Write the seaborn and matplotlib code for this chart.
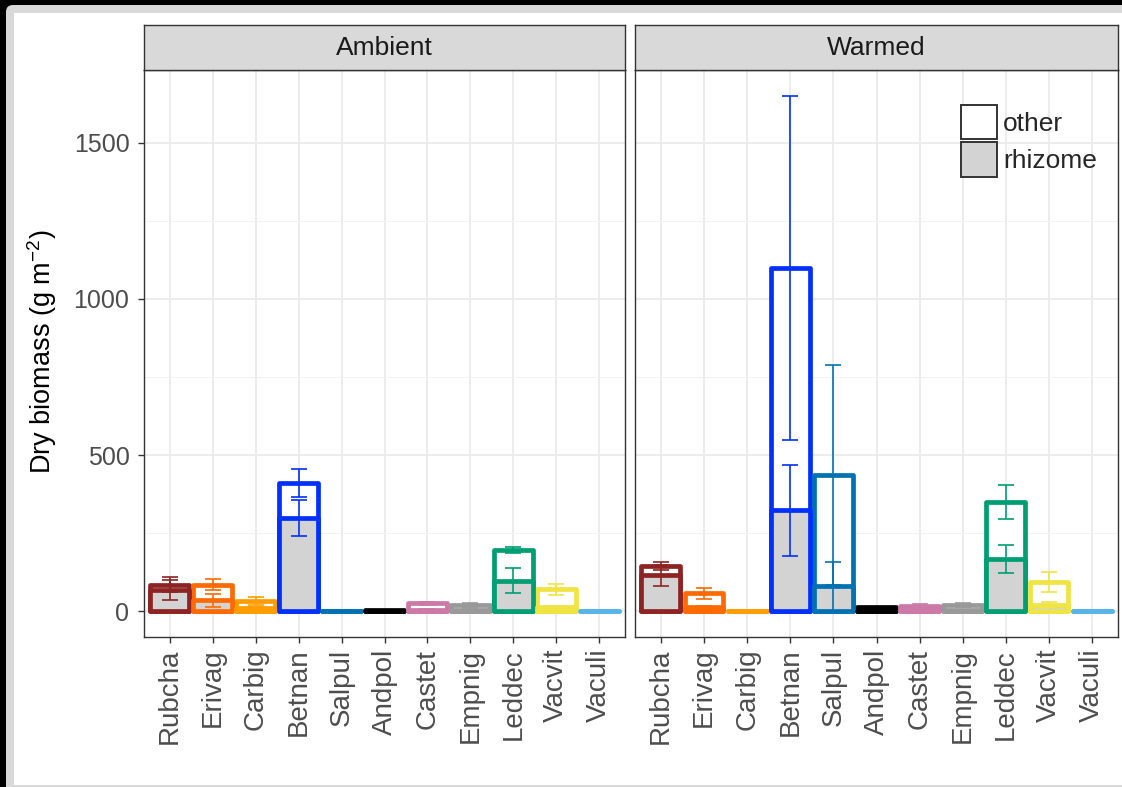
import numpy as np
import pandas as pd
import matplotlib
matplotlib.use("Agg")
import matplotlib.pyplot as plt
import seaborn as sns
from matplotlib.patches import Rectangle, FancyBboxPatch, Patch
from matplotlib.ticker import MultipleLocator

# ---- data -------------------------------------------------------------
species = ["Rubcha", "Erivag", "Carbig", "Betnan", "Salpul", "Andpol",
           "Castet", "Empnig", "Leddec", "Vacvit", "Vaculi"]
species_colors = ["#8E2323", "#FF6A00", "#FF9D00", "#0030FF", "#0072B2", "#000000",
                  "#CC79A7", "#999999", "#009E73", "#F0E442", "#56B4E9"]
treatments = ["Ambient", "Warmed"]
parts = ["other", "rhizome"]

ambient_rhizome    = [68, 35, 10, 298, 0, 0, 5, 5, 98, 12, 0]
ambient_rhizome_se = [33, 20, 5, 57, 0, 0, 2, 2, 40, 5, 0]
ambient_other      = [17, 50, 22, 112, 0, 4, 20, 15, 99, 58, 0]
ambient_other_se   = [23, 18, 12, 45, 0, 0, 5, 7, 10, 17, 0]

warmed_rhizome    = [115, 12, 0, 323, 80, 0, 3, 3, 166, 20, 0]
warmed_rhizome_se = [33, 5, 0, 146, 79, 0, 2, 2, 45, 8, 0]
warmed_other      = [30, 45, 2, 775, 355, 12, 15, 17, 184, 72, 0]
warmed_other_se   = [13, 17, 0, 550, 352, 0, 6, 5, 54, 32, 0]

rows = []
for trt, rh, rh_se, ot, ot_se in [
        ("Ambient", ambient_rhizome, ambient_rhizome_se, ambient_other, ambient_other_se),
        ("Warmed", warmed_rhizome, warmed_rhizome_se, warmed_other, warmed_other_se)]:
    for sp, a, b, c, d in zip(species, rh, rh_se, ot, ot_se):
        rows.append(dict(treatment=trt, species=sp, rhizome=a, rhizome_se=b,
                         total=a + c, total_se=d))
df = pd.DataFrame(rows)

# ---- style ------------------------------------------------------------
sns.set_theme(style="white")
plt.rcParams["font.family"] = ["Liberation Sans", "DejaVu Sans"]
plt.rcParams["mathtext.fontset"] = "custom"
plt.rcParams["mathtext.rm"] = "Liberation Sans"
plt.rcParams["mathtext.it"] = "Liberation Sans:italic"

W, H = 1122, 787
fig = plt.figure(figsize=(W / 100, H / 100), dpi=100)
fig.patch.set_facecolor("black")

# window frame behind the chart
fig.patches.append(FancyBboxPatch((0.06, -0.2), 11.5, (H - 5) / 100 + 0.2,
                                  boxstyle="round,pad=0,rounding_size=0.07",
                                  transform=fig.dpi_scale_trans, facecolor="#D9D9D9",
                                  edgecolor="none", zorder=-5))
fig.patches.append(Rectangle((0.14, 0.02), 11.2, (785 - 13) / 100,
                             transform=fig.dpi_scale_trans, facecolor="white",
                             edgecolor="none", zorder=-4))


def fx(px):
    return px / W


def fy(py):
    return 1 - py / H


panel_top, panel_bot, strip_top = 70, 637, 25
panels = [(144, 625), (635, 1118)]
FRAME = "#333333"
TICKTXT = "#4D4D4D"
BAR_LW = 3.4

axes = []
for k, (x0, x1) in enumerate(panels):
    ax = fig.add_axes([fx(x0), fy(panel_bot), (x1 - x0) / W, (panel_bot - panel_top) / H],
                      sharey=axes[0] if axes else None)
    axes.append(ax)
    sax = fig.add_axes([fx(x0), fy(panel_top), (x1 - x0) / W, (panel_top - strip_top) / H])
    sax.set_facecolor("#D9D9D9")
    sax.set_xticks([])
    sax.set_yticks([])
    for s in sax.spines.values():
        s.set_color(FRAME)
        s.set_linewidth(1.0)
    sax.text(0.5, 0.48, treatments[k], ha="center", va="center", fontsize=19,
             color="#1A1A1A", transform=sax.transAxes)

for ax, trt in zip(axes, treatments):
    sub = df[df.treatment == trt]
    ax.set_axisbelow(True)
    sns.barplot(data=sub, x="species", y="total", hue="species", order=species,
                hue_order=species, palette=species_colors, width=0.9, errorbar=None,
                legend=False, saturation=1, ax=ax)
    n1 = len(ax.containers)
    sns.barplot(data=sub, x="species", y="rhizome", hue="species", order=species,
                hue_order=species, palette=species_colors, width=0.9, errorbar=None,
                legend=False, saturation=1, ax=ax)
    for ci, cont in enumerate(ax.containers):
        face = "white" if ci < n1 else "#D3D3D3"
        col = species_colors[ci % len(species)]
        for bar in cont:
            bar.set_facecolor(face)
            bar.set_edgecolor(col)
            bar.set_linewidth(BAR_LW)
            bar.set_joinstyle("round")
            bar.set_capstyle("round")
            bar.set_zorder(2)

    # error bars for rhizome and stacked total
    for i, sp in enumerate(species):
        r = sub[sub.species == sp].iloc[0]
        for y, e in [(r.rhizome, r.rhizome_se), (r.total, r.total_se)]:
            ax.errorbar(i, y, yerr=e, fmt="none", ecolor=species_colors[i],
                        elinewidth=1.2, capsize=6, capthick=1.2, zorder=3)

    ax.set_xlim(-0.6, 10.6)
    ax.set_ylim(-82.5, 1732.5)
    ax.set_xlabel("")
    ax.set_ylabel("")
    ax.set_xticks(range(len(species)))
    ax.set_xticklabels(species, rotation=90, fontsize=20, color=TICKTXT)
    ax.yaxis.set_major_locator(MultipleLocator(500))
    ax.yaxis.set_minor_locator(MultipleLocator(250))
    ax.grid(True, which="major", color="#EBEBEB", linewidth=1.3)
    ax.grid(True, which="minor", axis="y", color="#F2F2F2", linewidth=0.7)
    for s in ax.spines.values():
        s.set_color(FRAME)
        s.set_linewidth(1.0)
    ax.tick_params(axis="x", which="major", length=4.5, width=1.0, color=FRAME, pad=4,
                   bottom=True)
    ax.tick_params(axis="y", which="major", length=4.5, width=1.0, color=FRAME, pad=6,
                   labelsize=18, labelcolor=TICKTXT, left=True)
    ax.tick_params(axis="y", which="minor", length=0)

axes[1].tick_params(axis="y", which="both", left=False, labelleft=False)

fig.text(fx(42), fy(352), "Dry biomass (g m$^{-2}$)", rotation=90, ha="center",
         va="center", fontsize=19.5, color="black")

handles = [Patch(facecolor="white", edgecolor=FRAME, linewidth=1.4, label="other"),
           Patch(facecolor="#D3D3D3", edgecolor=FRAME, linewidth=1.4, label="rhizome")]
axes[1].legend(handles=handles, loc="upper left",
               bbox_to_anchor=((961 - 635) / 483, 1 - (105 - 70) / 567),
               frameon=False, fontsize=19, handlelength=1.35, handleheight=1.62,
               handletextpad=0.25, labelspacing=0.12, borderpad=0, borderaxespad=0)

fig.savefig("out.png", dpi=100, facecolor=fig.get_facecolor())
